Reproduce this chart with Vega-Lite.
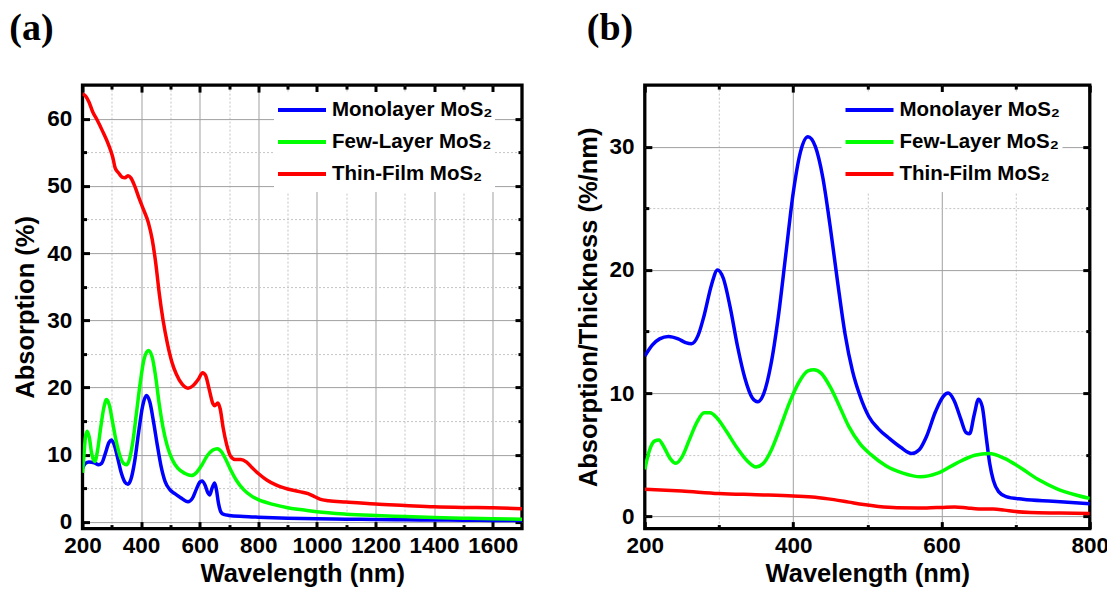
{
"$schema":"https://vega.github.io/schema/vega-lite/v6.json",
"autosize":{"type":"pad"},
"padding":{"left":7.5,"top":7.1,"right":0,"bottom":0},
"spacing":122.3,
"bounds":"flush",
"resolve":{"scale":{"color":"independent"}},
"config":{
"view":{"stroke":"black","strokeWidth":3.3},
"axis":{"labelFont":"Liberation Sans","labelFontSize":22.5,"labelFontWeight":"bold","labelColor":"black","titleFont":"Liberation Sans","titleFontSize":25.5,"titleFontWeight":"bold","titleColor":"black","tickColor":"black","tickWidth":3,"domain":false,"labelFlush":false,"labelOverlap":false,"gridColor":"#a0a0a0","gridWidth":1}
},
"datasets":{
"a":[
{"s":"Monolayer MoS₂","x":200,"y":8.0},{"s":"Monolayer MoS₂","x":210,"y":8.7},{"s":"Monolayer MoS₂","x":222,"y":8.9},{"s":"Monolayer MoS₂","x":240,"y":8.8},{"s":"Monolayer MoS₂","x":255,"y":8.5},{"s":"Monolayer MoS₂","x":265,"y":8.7},{"s":"Monolayer MoS₂","x":278,"y":10.2},{"s":"Monolayer MoS₂","x":290,"y":11.8},{"s":"Monolayer MoS₂","x":298,"y":12.2},{"s":"Monolayer MoS₂","x":308,"y":11.5},{"s":"Monolayer MoS₂","x":320,"y":9.5},{"s":"Monolayer MoS₂","x":333,"y":7.2},{"s":"Monolayer MoS₂","x":345,"y":5.9},{"s":"Monolayer MoS₂","x":355,"y":5.6},{"s":"Monolayer MoS₂","x":365,"y":6.3},{"s":"Monolayer MoS₂","x":378,"y":9.0},{"s":"Monolayer MoS₂","x":392,"y":13.5},{"s":"Monolayer MoS₂","x":405,"y":17.2},{"s":"Monolayer MoS₂","x":418,"y":18.8},{"s":"Monolayer MoS₂","x":430,"y":17.8},{"s":"Monolayer MoS₂","x":442,"y":15.0},{"s":"Monolayer MoS₂","x":455,"y":11.5},{"s":"Monolayer MoS₂","x":468,"y":8.3},{"s":"Monolayer MoS₂","x":482,"y":6.0},{"s":"Monolayer MoS₂","x":498,"y":4.8},{"s":"Monolayer MoS₂","x":515,"y":4.2},{"s":"Monolayer MoS₂","x":535,"y":3.6},{"s":"Monolayer MoS₂","x":560,"y":3.0},{"s":"Monolayer MoS₂","x":575,"y":3.5},{"s":"Monolayer MoS₂","x":588,"y":4.8},{"s":"Monolayer MoS₂","x":600,"y":5.9},{"s":"Monolayer MoS₂","x":608,"y":6.1},{"s":"Monolayer MoS₂","x":618,"y":5.5},{"s":"Monolayer MoS₂","x":628,"y":4.3},{"s":"Monolayer MoS₂","x":634,"y":4.0},{"s":"Monolayer MoS₂","x":642,"y":5.0},{"s":"Monolayer MoS₂","x":651,"y":5.8},{"s":"Monolayer MoS₂","x":657,"y":4.8},{"s":"Monolayer MoS₂","x":664,"y":2.8},{"s":"Monolayer MoS₂","x":672,"y":1.5},{"s":"Monolayer MoS₂","x":682,"y":1.1},{"s":"Monolayer MoS₂","x":700,"y":0.95},{"s":"Monolayer MoS₂","x":750,"y":0.8},{"s":"Monolayer MoS₂","x":800,"y":0.7},{"s":"Monolayer MoS₂","x":900,"y":0.55},{"s":"Monolayer MoS₂","x":1000,"y":0.45},{"s":"Monolayer MoS₂","x":1100,"y":0.4},{"s":"Monolayer MoS₂","x":1200,"y":0.35},{"s":"Monolayer MoS₂","x":1300,"y":0.3},{"s":"Monolayer MoS₂","x":1400,"y":0.28},{"s":"Monolayer MoS₂","x":1500,"y":0.25},{"s":"Monolayer MoS₂","x":1600,"y":0.22},{"s":"Monolayer MoS₂","x":1700,"y":0.2},
{"s":"Few-Layer MoS₂","x":200,"y":7.3},{"s":"Few-Layer MoS₂","x":205,"y":10.0},{"s":"Few-Layer MoS₂","x":210,"y":12.6},{"s":"Few-Layer MoS₂","x":216,"y":13.5},{"s":"Few-Layer MoS₂","x":223,"y":12.6},{"s":"Few-Layer MoS₂","x":232,"y":10.0},{"s":"Few-Layer MoS₂","x":242,"y":9.0},{"s":"Few-Layer MoS₂","x":252,"y":10.8},{"s":"Few-Layer MoS₂","x":262,"y":14.0},{"s":"Few-Layer MoS₂","x":272,"y":16.8},{"s":"Few-Layer MoS₂","x":282,"y":18.2},{"s":"Few-Layer MoS₂","x":292,"y":17.3},{"s":"Few-Layer MoS₂","x":302,"y":15.0},{"s":"Few-Layer MoS₂","x":315,"y":12.0},{"s":"Few-Layer MoS₂","x":328,"y":9.8},{"s":"Few-Layer MoS₂","x":340,"y":8.7},{"s":"Few-Layer MoS₂","x":350,"y":8.5},{"s":"Few-Layer MoS₂","x":360,"y":9.3},{"s":"Few-Layer MoS₂","x":372,"y":12.0},{"s":"Few-Layer MoS₂","x":385,"y":16.5},{"s":"Few-Layer MoS₂","x":398,"y":21.0},{"s":"Few-Layer MoS₂","x":410,"y":24.2},{"s":"Few-Layer MoS₂","x":425,"y":25.5},{"s":"Few-Layer MoS₂","x":438,"y":24.5},{"s":"Few-Layer MoS₂","x":450,"y":21.5},{"s":"Few-Layer MoS₂","x":462,"y":17.5},{"s":"Few-Layer MoS₂","x":475,"y":14.0},{"s":"Few-Layer MoS₂","x":490,"y":11.2},{"s":"Few-Layer MoS₂","x":505,"y":9.4},{"s":"Few-Layer MoS₂","x":525,"y":8.0},{"s":"Few-Layer MoS₂","x":550,"y":7.2},{"s":"Few-Layer MoS₂","x":572,"y":6.9},{"s":"Few-Layer MoS₂","x":590,"y":7.4},{"s":"Few-Layer MoS₂","x":608,"y":8.5},{"s":"Few-Layer MoS₂","x":625,"y":9.8},{"s":"Few-Layer MoS₂","x":645,"y":10.7},{"s":"Few-Layer MoS₂","x":660,"y":10.9},{"s":"Few-Layer MoS₂","x":675,"y":10.4},{"s":"Few-Layer MoS₂","x":690,"y":9.2},{"s":"Few-Layer MoS₂","x":705,"y":7.8},{"s":"Few-Layer MoS₂","x":725,"y":6.2},{"s":"Few-Layer MoS₂","x":750,"y":4.8},{"s":"Few-Layer MoS₂","x":775,"y":3.9},{"s":"Few-Layer MoS₂","x":800,"y":3.3},{"s":"Few-Layer MoS₂","x":850,"y":2.6},{"s":"Few-Layer MoS₂","x":900,"y":2.1},{"s":"Few-Layer MoS₂","x":950,"y":1.8},{"s":"Few-Layer MoS₂","x":1000,"y":1.5},{"s":"Few-Layer MoS₂","x":1100,"y":1.15},{"s":"Few-Layer MoS₂","x":1200,"y":0.95},{"s":"Few-Layer MoS₂","x":1300,"y":0.8},{"s":"Few-Layer MoS₂","x":1400,"y":0.65},{"s":"Few-Layer MoS₂","x":1500,"y":0.55},{"s":"Few-Layer MoS₂","x":1600,"y":0.45},{"s":"Few-Layer MoS₂","x":1700,"y":0.4},
{"s":"Thin-Film MoS₂","x":200,"y":63.7},{"s":"Thin-Film MoS₂","x":210,"y":63.4},{"s":"Thin-Film MoS₂","x":222,"y":62.5},{"s":"Thin-Film MoS₂","x":235,"y":61.0},{"s":"Thin-Film MoS₂","x":250,"y":59.8},{"s":"Thin-Film MoS₂","x":270,"y":58.0},{"s":"Thin-Film MoS₂","x":290,"y":56.0},{"s":"Thin-Film MoS₂","x":303,"y":54.3},{"s":"Thin-Film MoS₂","x":312,"y":52.6},{"s":"Thin-Film MoS₂","x":322,"y":52.0},{"s":"Thin-Film MoS₂","x":335,"y":51.3},{"s":"Thin-Film MoS₂","x":345,"y":51.2},{"s":"Thin-Film MoS₂","x":355,"y":51.5},{"s":"Thin-Film MoS₂","x":365,"y":51.2},{"s":"Thin-Film MoS₂","x":378,"y":50.0},{"s":"Thin-Film MoS₂","x":392,"y":48.3},{"s":"Thin-Film MoS₂","x":408,"y":46.5},{"s":"Thin-Film MoS₂","x":425,"y":44.5},{"s":"Thin-Film MoS₂","x":438,"y":42.0},{"s":"Thin-Film MoS₂","x":450,"y":38.5},{"s":"Thin-Film MoS₂","x":462,"y":34.0},{"s":"Thin-Film MoS₂","x":475,"y":30.0},{"s":"Thin-Film MoS₂","x":490,"y":26.5},{"s":"Thin-Film MoS₂","x":505,"y":23.8},{"s":"Thin-Film MoS₂","x":520,"y":22.0},{"s":"Thin-Film MoS₂","x":540,"y":20.5},{"s":"Thin-Film MoS₂","x":560,"y":19.9},{"s":"Thin-Film MoS₂","x":578,"y":20.3},{"s":"Thin-Film MoS₂","x":595,"y":21.2},{"s":"Thin-Film MoS₂","x":610,"y":22.2},{"s":"Thin-Film MoS₂","x":620,"y":21.8},{"s":"Thin-Film MoS₂","x":632,"y":19.8},{"s":"Thin-Film MoS₂","x":645,"y":17.6},{"s":"Thin-Film MoS₂","x":652,"y":17.3},{"s":"Thin-Film MoS₂","x":662,"y":17.7},{"s":"Thin-Film MoS₂","x":670,"y":16.8},{"s":"Thin-Film MoS₂","x":680,"y":14.0},{"s":"Thin-Film MoS₂","x":692,"y":11.5},{"s":"Thin-Film MoS₂","x":705,"y":9.8},{"s":"Thin-Film MoS₂","x":720,"y":9.3},{"s":"Thin-Film MoS₂","x":740,"y":9.3},{"s":"Thin-Film MoS₂","x":760,"y":8.9},{"s":"Thin-Film MoS₂","x":780,"y":8.0},{"s":"Thin-Film MoS₂","x":800,"y":7.2},{"s":"Thin-Film MoS₂","x":830,"y":6.2},{"s":"Thin-Film MoS₂","x":860,"y":5.5},{"s":"Thin-Film MoS₂","x":900,"y":4.9},{"s":"Thin-Film MoS₂","x":940,"y":4.5},{"s":"Thin-Film MoS₂","x":970,"y":4.2},{"s":"Thin-Film MoS₂","x":990,"y":3.8},{"s":"Thin-Film MoS₂","x":1010,"y":3.4},{"s":"Thin-Film MoS₂","x":1040,"y":3.15},{"s":"Thin-Film MoS₂","x":1100,"y":2.95},{"s":"Thin-Film MoS₂","x":1200,"y":2.65},{"s":"Thin-Film MoS₂","x":1300,"y":2.45},{"s":"Thin-Film MoS₂","x":1400,"y":2.25},{"s":"Thin-Film MoS₂","x":1500,"y":2.15},{"s":"Thin-Film MoS₂","x":1600,"y":2.1},{"s":"Thin-Film MoS₂","x":1700,"y":1.95}
],
"b":[
{"s":"Monolayer MoS₂","x":200,"y":13.0},{"s":"Monolayer MoS₂","x":210,"y":13.9},{"s":"Monolayer MoS₂","x":220,"y":14.4},{"s":"Monolayer MoS₂","x":232,"y":14.6},{"s":"Monolayer MoS₂","x":245,"y":14.4},{"s":"Monolayer MoS₂","x":255,"y":14.1},{"s":"Monolayer MoS₂","x":263,"y":14.0},{"s":"Monolayer MoS₂","x":272,"y":14.7},{"s":"Monolayer MoS₂","x":280,"y":16.3},{"s":"Monolayer MoS₂","x":290,"y":18.8},{"s":"Monolayer MoS₂","x":298,"y":20.0},{"s":"Monolayer MoS₂","x":306,"y":19.3},{"s":"Monolayer MoS₂","x":315,"y":17.0},{"s":"Monolayer MoS₂","x":325,"y":13.8},{"s":"Monolayer MoS₂","x":335,"y":11.2},{"s":"Monolayer MoS₂","x":345,"y":9.6},{"s":"Monolayer MoS₂","x":352,"y":9.3},{"s":"Monolayer MoS₂","x":360,"y":9.9},{"s":"Monolayer MoS₂","x":370,"y":12.3},{"s":"Monolayer MoS₂","x":380,"y":16.2},{"s":"Monolayer MoS₂","x":390,"y":21.2},{"s":"Monolayer MoS₂","x":400,"y":26.2},{"s":"Monolayer MoS₂","x":410,"y":29.6},{"s":"Monolayer MoS₂","x":420,"y":30.8},{"s":"Monolayer MoS₂","x":430,"y":30.0},{"s":"Monolayer MoS₂","x":440,"y":27.5},{"s":"Monolayer MoS₂","x":450,"y":23.5},{"s":"Monolayer MoS₂","x":460,"y":19.0},{"s":"Monolayer MoS₂","x":470,"y":14.8},{"s":"Monolayer MoS₂","x":480,"y":11.8},{"s":"Monolayer MoS₂","x":490,"y":9.8},{"s":"Monolayer MoS₂","x":502,"y":8.1},{"s":"Monolayer MoS₂","x":515,"y":7.1},{"s":"Monolayer MoS₂","x":530,"y":6.3},{"s":"Monolayer MoS₂","x":545,"y":5.6},{"s":"Monolayer MoS₂","x":560,"y":5.1},{"s":"Monolayer MoS₂","x":570,"y":5.4},{"s":"Monolayer MoS₂","x":580,"y":6.5},{"s":"Monolayer MoS₂","x":592,"y":8.5},{"s":"Monolayer MoS₂","x":602,"y":9.7},{"s":"Monolayer MoS₂","x":609,"y":10.0},{"s":"Monolayer MoS₂","x":617,"y":9.4},{"s":"Monolayer MoS₂","x":626,"y":7.9},{"s":"Monolayer MoS₂","x":633,"y":6.8},{"s":"Monolayer MoS₂","x":638,"y":6.7},{"s":"Monolayer MoS₂","x":644,"y":8.2},{"s":"Monolayer MoS₂","x":650,"y":9.5},{"s":"Monolayer MoS₂","x":655,"y":8.9},{"s":"Monolayer MoS₂","x":660,"y":6.6},{"s":"Monolayer MoS₂","x":665,"y":4.3},{"s":"Monolayer MoS₂","x":670,"y":2.9},{"s":"Monolayer MoS₂","x":677,"y":2.0},{"s":"Monolayer MoS₂","x":687,"y":1.6},{"s":"Monolayer MoS₂","x":710,"y":1.38},{"s":"Monolayer MoS₂","x":750,"y":1.22},{"s":"Monolayer MoS₂","x":800,"y":1.02},
{"s":"Few-Layer MoS₂","x":200,"y":3.8},{"s":"Few-Layer MoS₂","x":206,"y":5.3},{"s":"Few-Layer MoS₂","x":213,"y":6.1},{"s":"Few-Layer MoS₂","x":219,"y":6.2},{"s":"Few-Layer MoS₂","x":226,"y":5.6},{"s":"Few-Layer MoS₂","x":234,"y":4.7},{"s":"Few-Layer MoS₂","x":242,"y":4.3},{"s":"Few-Layer MoS₂","x":250,"y":4.8},{"s":"Few-Layer MoS₂","x":260,"y":6.2},{"s":"Few-Layer MoS₂","x":270,"y":7.6},{"s":"Few-Layer MoS₂","x":280,"y":8.4},{"s":"Few-Layer MoS₂","x":288,"y":8.4},{"s":"Few-Layer MoS₂","x":297,"y":8.0},{"s":"Few-Layer MoS₂","x":310,"y":6.9},{"s":"Few-Layer MoS₂","x":325,"y":5.5},{"s":"Few-Layer MoS₂","x":338,"y":4.5},{"s":"Few-Layer MoS₂","x":350,"y":4.0},{"s":"Few-Layer MoS₂","x":360,"y":4.3},{"s":"Few-Layer MoS₂","x":370,"y":5.3},{"s":"Few-Layer MoS₂","x":382,"y":7.1},{"s":"Few-Layer MoS₂","x":395,"y":9.2},{"s":"Few-Layer MoS₂","x":408,"y":10.9},{"s":"Few-Layer MoS₂","x":420,"y":11.8},{"s":"Few-Layer MoS₂","x":428,"y":11.9},{"s":"Few-Layer MoS₂","x":438,"y":11.6},{"s":"Few-Layer MoS₂","x":450,"y":10.5},{"s":"Few-Layer MoS₂","x":462,"y":9.0},{"s":"Few-Layer MoS₂","x":475,"y":7.3},{"s":"Few-Layer MoS₂","x":490,"y":5.9},{"s":"Few-Layer MoS₂","x":505,"y":5.0},{"s":"Few-Layer MoS₂","x":525,"y":4.1},{"s":"Few-Layer MoS₂","x":548,"y":3.5},{"s":"Few-Layer MoS₂","x":572,"y":3.2},{"s":"Few-Layer MoS₂","x":595,"y":3.5},{"s":"Few-Layer MoS₂","x":620,"y":4.3},{"s":"Few-Layer MoS₂","x":645,"y":4.95},{"s":"Few-Layer MoS₂","x":664,"y":5.1},{"s":"Few-Layer MoS₂","x":685,"y":4.7},{"s":"Few-Layer MoS₂","x":705,"y":4.0},{"s":"Few-Layer MoS₂","x":730,"y":3.0},{"s":"Few-Layer MoS₂","x":755,"y":2.25},{"s":"Few-Layer MoS₂","x":780,"y":1.75},{"s":"Few-Layer MoS₂","x":800,"y":1.45},
{"s":"Thin-Film MoS₂","x":200,"y":2.2},{"s":"Thin-Film MoS₂","x":250,"y":2.05},{"s":"Thin-Film MoS₂","x":300,"y":1.85},{"s":"Thin-Film MoS₂","x":350,"y":1.75},{"s":"Thin-Film MoS₂","x":400,"y":1.65},{"s":"Thin-Film MoS₂","x":430,"y":1.55},{"s":"Thin-Film MoS₂","x":455,"y":1.35},{"s":"Thin-Film MoS₂","x":475,"y":1.15},{"s":"Thin-Film MoS₂","x":495,"y":0.95},{"s":"Thin-Film MoS₂","x":515,"y":0.8},{"s":"Thin-Film MoS₂","x":540,"y":0.7},{"s":"Thin-Film MoS₂","x":580,"y":0.68},{"s":"Thin-Film MoS₂","x":600,"y":0.72},{"s":"Thin-Film MoS₂","x":618,"y":0.76},{"s":"Thin-Film MoS₂","x":635,"y":0.67},{"s":"Thin-Film MoS₂","x":650,"y":0.6},{"s":"Thin-Film MoS₂","x":670,"y":0.6},{"s":"Thin-Film MoS₂","x":685,"y":0.5},{"s":"Thin-Film MoS₂","x":700,"y":0.38},{"s":"Thin-Film MoS₂","x":720,"y":0.3},{"s":"Thin-Film MoS₂","x":760,"y":0.26},{"s":"Thin-Film MoS₂","x":800,"y":0.22}
]
},
"hconcat":[
{
"width":439.5,"height":443.5,
"data":{"name":"a"},
"title":{"text":"(a)","anchor":"start","frame":"group","dx":-73.2,"offset":6,"baseline":"alphabetic","font":"Liberation Serif","fontSize":38,"fontWeight":"bold","color":"black"},
"resolve":{"axis":{"x":"independent","y":"independent"}},
"layer":[
{"mark":{"type":"line","strokeWidth":3.5,"interpolate":"monotone","clip":true},
"encoding":{
"x":{"field":"x","type":"quantitative","scale":{"domain":[200,1700],"nice":false,"zero":false},"axis":{"orient":"bottom","values":[200,400,600,800,1000,1200,1400,1600],"format":"d","title":"Wavelength (nm)","grid":true,"gridColor":{"condition":{"test":"datum.value === 200","value":"transparent"},"value":"#a0a0a0"},"tickSize":-7,"labelPadding":13,"titlePadding":4}},
"y":{"field":"y","type":"quantitative","scale":{"domain":[-1,65],"nice":false,"zero":false},"axis":{"orient":"left","values":[0,10,20,30,40,50,60],"format":"d","title":"Absorption (%)","grid":true,"tickSize":-7,"labelPadding":17.7,"titlePadding":8}},
"color":{"field":"s","type":"nominal","scale":{"domain":["Monolayer MoS₂","Few-Layer MoS₂","Thin-Film MoS₂"],"range":["#0000ff","#00ff00","#ff0000"]},"legend":{"orient":"none","legendX":191.5,"legendY":7,"title":null,"symbolType":"stroke","symbolSize":2304,"symbolStrokeWidth":4,"clipHeight":32,"rowPadding":0,"padding":2,"fillColor":"white","labelFont":"Liberation Sans","labelFontSize":20.5,"labelFontWeight":"bold","labelColor":"black","labelOffset":4,"labelLimit":0}}
}},
{"mark":{"type":"line","strokeOpacity":0},
"encoding":{
"detail":{"field":"s"},
"x":{"field":"x","type":"quantitative","axis":{"orient":"bottom","values":[300,500,700,900,1100,1300,1500],"title":null,"labels":false,"grid":true,"gridDash":[2,2],"gridColor":"#c4c4c4","tickSize":-4}},
"y":{"field":"y","type":"quantitative","axis":{"orient":"left","values":[5,15,25,35,45,55],"title":null,"labels":false,"grid":true,"gridDash":[2,2],"gridColor":"#c4c4c4","tickSize":-4}}
}},
{"mark":{"type":"line","strokeOpacity":0},
"encoding":{
"detail":{"field":"s"},
"x":{"field":"x","type":"quantitative","axis":{"orient":"top","values":[200,400,600,800,1000,1200,1400,1600],"title":null,"labels":false,"grid":false,"tickSize":-7}},
"y":{"field":"y","type":"quantitative","axis":{"orient":"right","values":[0,10,20,30,40,50,60],"title":null,"labels":false,"grid":false,"tickSize":-7}}
}},
{"mark":{"type":"line","strokeOpacity":0},
"encoding":{
"detail":{"field":"s"},
"x":{"field":"x","type":"quantitative","axis":{"orient":"top","values":[300,500,700,900,1100,1300,1500],"title":null,"labels":false,"grid":false,"tickSize":-4}},
"y":{"field":"y","type":"quantitative","axis":{"orient":"right","values":[5,15,25,35,45,55],"title":null,"labels":false,"grid":false,"tickSize":-4}}
}}
]
},
{
"width":445,"height":443.5,
"data":{"name":"b"},
"title":{"text":"(b)","anchor":"start","frame":"group","dx":-58,"offset":6,"baseline":"alphabetic","font":"Liberation Serif","fontSize":38,"fontWeight":"bold","color":"black"},
"resolve":{"axis":{"x":"independent","y":"independent"}},
"layer":[
{"mark":{"type":"line","strokeWidth":3.5,"interpolate":"monotone","clip":true},
"encoding":{
"x":{"field":"x","type":"quantitative","scale":{"domain":[200,800],"nice":false,"zero":false},"axis":{"orient":"bottom","values":[200,400,600,800],"format":"d","title":"Wavelength (nm)","grid":true,"gridColor":{"condition":{"test":"datum.value === 200 || datum.value === 800","value":"transparent"},"value":"#a0a0a0"},"tickSize":-7,"labelPadding":13,"titlePadding":4}},
"y":{"field":"y","type":"quantitative","scale":{"domain":[-1,35],"nice":false,"zero":false},"axis":{"orient":"left","values":[0,10,20,30],"format":"d","title":"Absorption/Thickness (%/nm)","grid":true,"tickSize":-7,"labelPadding":17.7,"titlePadding":8}},
"color":{"field":"s","type":"nominal","scale":{"domain":["Monolayer MoS₂","Few-Layer MoS₂","Thin-Film MoS₂"],"range":["#0000ff","#00ff00","#ff0000"]},"legend":{"orient":"none","legendX":196.7,"legendY":7,"title":null,"symbolType":"stroke","symbolSize":2304,"symbolStrokeWidth":4,"clipHeight":32,"rowPadding":0,"padding":2,"fillColor":"white","labelFont":"Liberation Sans","labelFontSize":20.5,"labelFontWeight":"bold","labelColor":"black","labelOffset":4,"labelLimit":0}}
}},
{"mark":{"type":"line","strokeOpacity":0},
"encoding":{
"detail":{"field":"s"},
"x":{"field":"x","type":"quantitative","axis":{"orient":"bottom","values":[300,500,700],"title":null,"labels":false,"grid":true,"gridDash":[2,2],"gridColor":"#c4c4c4","tickSize":-4}},
"y":{"field":"y","type":"quantitative","axis":{"orient":"left","values":[5,15,25],"title":null,"labels":false,"grid":true,"gridDash":[2,2],"gridColor":"#c4c4c4","tickSize":-4}}
}},
{"mark":{"type":"line","strokeOpacity":0},
"encoding":{
"detail":{"field":"s"},
"x":{"field":"x","type":"quantitative","axis":{"orient":"top","values":[200,400,600,800],"title":null,"labels":false,"grid":false,"tickSize":-7}},
"y":{"field":"y","type":"quantitative","axis":{"orient":"right","values":[0,10,20,30],"title":null,"labels":false,"grid":false,"tickSize":-7}}
}},
{"mark":{"type":"line","strokeOpacity":0},
"encoding":{
"detail":{"field":"s"},
"x":{"field":"x","type":"quantitative","axis":{"orient":"top","values":[300,500,700],"title":null,"labels":false,"grid":false,"tickSize":-4}},
"y":{"field":"y","type":"quantitative","axis":{"orient":"right","values":[5,15,25],"title":null,"labels":false,"grid":false,"tickSize":-4}}
}}
]
}
]
}
